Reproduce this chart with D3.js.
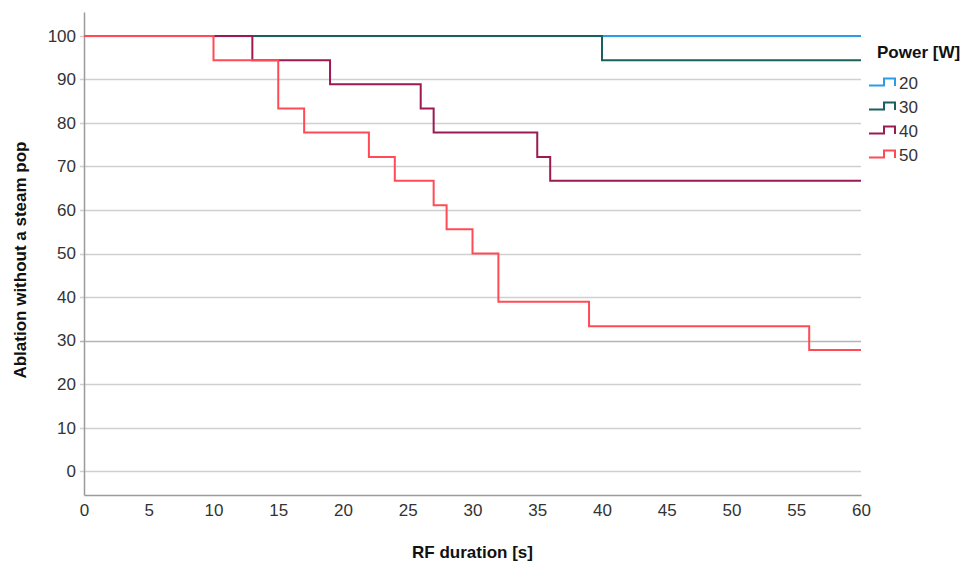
<!DOCTYPE html>
<html>
<head>
<meta charset="utf-8">
<script src="https://cdn.jsdelivr.net/npm/d3@7"></script>
<style>
  body { margin: 0; background: #fff; }
  svg { display: block; font-family: "Liberation Sans", Arial, sans-serif; }
</style>
</head>
<body>
<div id="grafico"></div>
<script>
// Kaplan-Meier style step data: times where the curve changes, and the value from that time on
const powers = ["20", "30", "40", "50"];
const colors = ["#2a9de6", "#1a605e", "#9b1a52", "#ff4b55"];

const times20 = [0, 60];
const values20 = [100, 100];

const times30 = [0, 40, 60];
const values30 = [100, 94.4, 94.4];

const times40 = [0, 13, 19, 26, 27, 35, 36, 60];
const values40 = [100, 94.4, 88.9, 83.3, 77.8, 72.2, 66.7, 66.7];

const times50 = [0, 10, 15, 17, 22, 24, 27, 28, 30, 32, 39, 56, 60];
const values50 = [100, 94.4, 83.3, 77.8, 72.2, 66.7, 61.1, 55.6, 50, 38.9, 33.3, 27.8, 27.8];

const xTicks = [0, 5, 10, 15, 20, 25, 30, 35, 40, 45, 50, 55, 60];
const yTicks = [0, 10, 20, 30, 40, 50, 60, 70, 80, 90, 100];

const allTimes = [times20, times30, times40, times50];
const allValues = [values20, values30, values40, values50];

var ancho = 968;
var alto = 561;
var margen = { superior: 12, derecho: 107, inferior: 66, izquierdo: 84 };
var w = ancho - margen.izquierdo - margen.derecho;
var h = alto - margen.superior - margen.inferior;

var svg = d3.select("#grafico")
    .append("svg")
    .attr("width", ancho)
    .attr("height", alto);

var g = svg.append("g")
    .attr("transform", "translate(" + margen.izquierdo + "," + margen.superior + ")");

var x = d3.scaleLinear().domain([0, 60]).range([0, w]);
var y = d3.scaleLinear().domain([-5.5, 105.5]).range([h, 0]);

// gridlines
g.selectAll(".grid")
    .data(yTicks)
    .enter().append("line")
    .attr("x1", -4)
    .attr("x2", w)
    .attr("y1", d => Math.round(y(d)) + 0.5)
    .attr("y2", d => Math.round(y(d)) + 0.5)
    .style("stroke", d => d === 30 ? "#b4b4b4" : "#d0d0d0")
    .style("stroke-width", 1.5);

// axes
var yAxis = g.append("g")
    .call(d3.axisLeft(y).tickValues(yTicks).tickSize(0).tickPadding(8));
var xAxis = g.append("g")
    .attr("transform", "translate(0," + h + ")")
    .call(d3.axisBottom(x).tickValues(xTicks).tickSize(0).tickPadding(9));

[xAxis, yAxis].forEach(a => {
    a.select(".domain").style("stroke", "#9a9a9a").style("stroke-width", 1.5);
    a.selectAll("text")
        .style("font-size", "17px")
        .style("fill", "#333")
        .style("font-family", "\"Liberation Sans\", Arial, sans-serif");
});

// step curves
var line = d3.line()
    .x(d => x(d[0]))
    .y(d => y(d[1]))
    .curve(d3.curveStepAfter);

allTimes.forEach((t, i) => {
    var pts = t.map((tt, j) => [tt, allValues[i][j]]);
    g.append("path")
        .datum(pts)
        .attr("d", line)
        .style("fill", "none")
        .style("stroke", colors[i])
        .style("stroke-width", 2);
});

// axis titles
svg.append("text")
    .attr("x", margen.izquierdo + w / 2)
    .attr("y", 558)
    .attr("text-anchor", "middle")
    .style("font-size", "17px")
    .style("font-weight", "bold")
    .style("fill", "#111")
    .text("RF duration [s]");

svg.append("text")
    .attr("transform", "translate(26," + (margen.superior + y(48.5)) + ") rotate(-90)")
    .attr("text-anchor", "middle")
    .style("font-size", "17px")
    .style("font-weight", "bold")
    .style("fill", "#111")
    .text("Ablation without a steam pop");

// legend
var leg = svg.append("g").attr("transform", "translate(868,0)");
leg.append("text")
    .attr("x", 9)
    .attr("y", 58)
    .style("font-size", "17px")
    .style("font-weight", "bold")
    .style("fill", "#111")
    .text("Power [W]");

powers.forEach((p, i) => {
    var yy = 82 + i * 24;
    leg.append("path")
        .attr("d", "M1," + (yy + 3.5) + "H16V" + (yy - 3.5) + "H27V" + (yy + 4))
        .style("fill", "none")
        .style("stroke", colors[i])
        .style("stroke-width", 2);
    leg.append("text")
        .attr("x", 31)
        .attr("y", yy + 7)
        .style("font-size", "17px")
        .style("fill", "#333")
        .text(p);
});
</script>
</body>
</html>
